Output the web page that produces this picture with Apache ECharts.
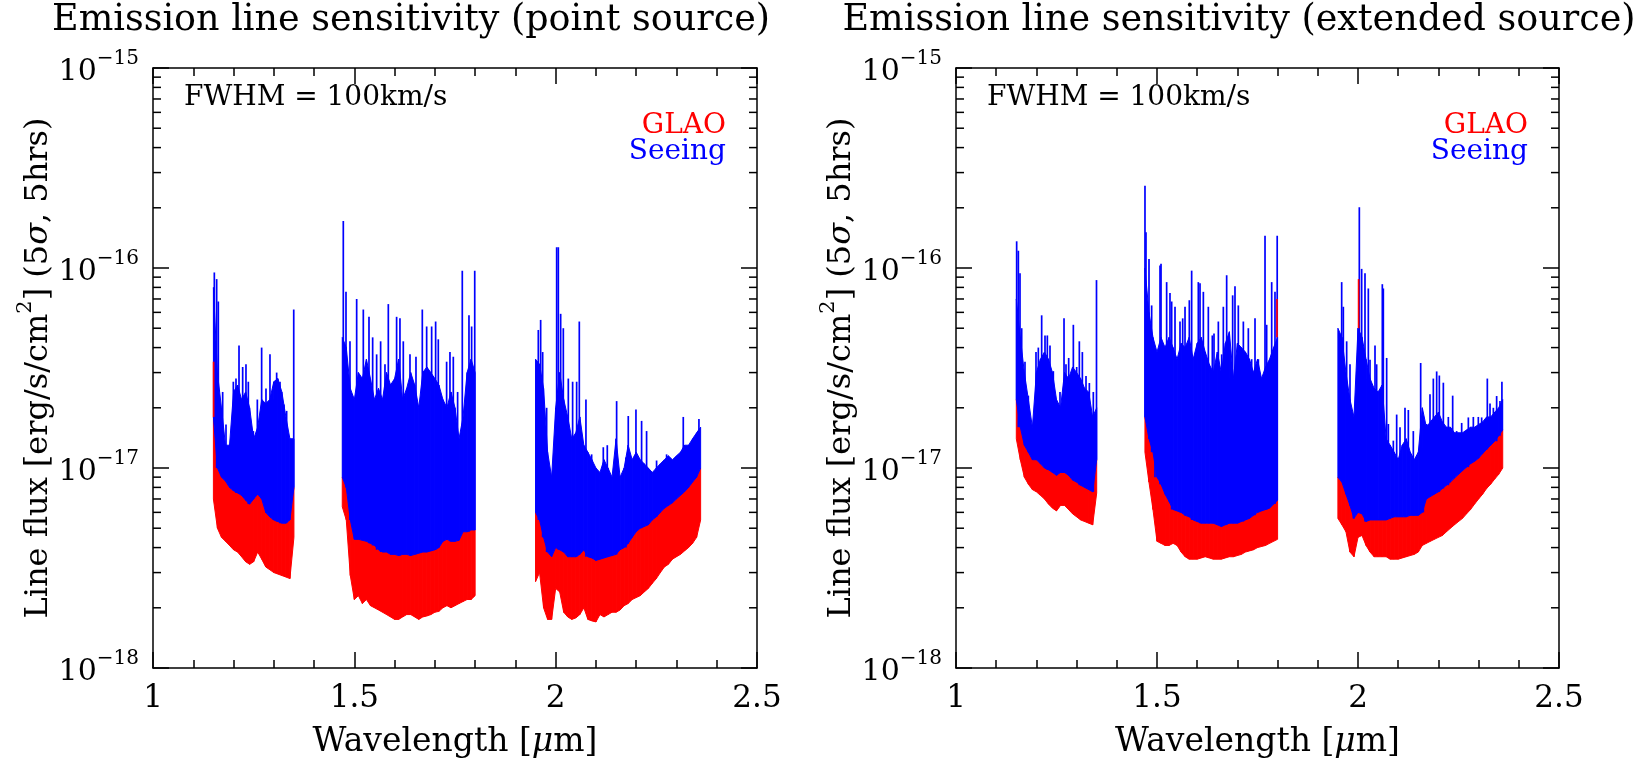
<!DOCTYPE html>
<html><head><meta charset="utf-8">
<script src="https://cdn.jsdelivr.net/npm/echarts@6/dist/echarts.min.js"></script>
<style>html,body{margin:0;padding:0;background:#fff}#c{width:1640px;height:764px}</style>
</head><body><div id="c"></div>
<script>
// ---------------- data (flux values in units of 1e-18 erg/s/cm^2) ----------------
const titles = ['Emission line sensitivity (point source)', 'Emission line sensitivity (extended source)'];
const annotation = 'FWHM = 100km/s';
const seriesNames = ['GLAO', 'Seeing'];
const xTickValues = [1, 1.5, 2, 2.5];
const xTickLabels = ['1', '1.5', '2', '2.5'];
const yTickValues = [1, 10, 100, 1000];
const yTickExponents = ['\u221218', '\u221217', '\u221216', '\u221215'];
const yMinorTickValues = [2,3,4,5,6,7,8,9,20,30,40,50,60,70,80,90,200,300,400,500,600,700,800,900];

const gridJ = [1.15,1.16,1.17,1.18,1.19,1.20,1.21,1.22,1.23,1.24,1.25,1.26,1.27,1.28,1.29,1.30,1.31,1.32,1.33,1.34,1.35];
const gridH = [1.47,1.48,1.49,1.50,1.51,1.52,1.53,1.54,1.55,1.56,1.57,1.58,1.59,1.60,1.61,1.62,1.63,1.64,1.65,1.66,1.67,1.68,1.69,1.70,1.71,1.72,1.73,1.74,1.75,1.76,1.77,1.78,1.79,1.80];
const gridK = [1.95,1.96,1.97,1.98,1.99,2.00,2.01,2.02,2.03,2.04,2.05,2.06,2.07,2.08,2.09,2.10,2.11,2.12,2.13,2.14,2.15,2.16,2.17,2.18,2.19,2.20,2.21,2.22,2.23,2.24,2.25,2.26,2.27,2.28,2.29,2.30,2.31,2.32,2.33,2.34,2.35,2.36];

// point source: Seeing dense top, Seeing floor, GLAO floor
const pointJTop     = [80,30,20,13,13,24,26,22,24,20,14,16,22,21,22,27,28,24,18,14,14];
const pointJBlueLow = [18,10,9.0,8.6,8.0,7.7,7.5,7.3,6.9,6.6,7.0,7.4,7.0,6.0,5.7,5.5,5.4,5.3,5.3,5.5,8.0];
const pointJRedLow  = [7,5.0,4.5,4.3,4.1,3.9,3.8,3.6,3.4,3.3,3.4,3.8,3.5,3.2,3.1,3.0,2.95,2.9,2.85,2.8,4.5];
const pointHTop     = [45,40,25,22,30,28,35,28,22,25,22,30,26,28,35,22,25,30,26,20,30,32,30,28,26,22,20,24,20,14,18,30,35,30];
const pointHBlueLow = [9,8,5.5,4.4,4.4,4.35,4.3,4.2,4.1,3.9,3.8,3.8,3.7,3.7,3.65,3.7,3.7,3.65,3.7,3.75,3.8,3.8,3.85,3.9,4.0,4.3,4.4,4.3,4.3,4.35,4.8,4.8,4.9,4.9];
const pointHRedLow  = [6.4,5.5,2.9,2.2,2.3,2.1,2.2,2.05,2.0,1.95,1.9,1.85,1.8,1.75,1.75,1.8,1.85,1.85,1.8,1.75,1.8,1.82,1.85,1.9,1.92,2.0,2.05,2.0,2.05,2.1,2.15,2.2,2.2,2.3];
const pointKTop     = [35,33,25,12,9,20,30,22,18,14,15,18,13,12,11,10,9.5,11,10,9,14,9,10,13,11,12,11,10.5,10,9.5,10,10.5,11,11.5,11,11.5,12,13,13,14,15,16];
const pointKBlueLow = [6.0,5.5,4.5,3.8,3.6,4.0,3.9,3.8,3.6,3.6,3.6,3.7,3.9,3.6,3.55,3.45,3.5,3.55,3.6,3.65,3.7,3.9,4.0,4.2,4.5,4.8,5.0,5.1,5.2,5.5,5.7,6.0,6.3,6.5,6.7,7.0,7.3,7.6,8.0,8.5,9.0,10.0];
const pointKRedLow  = [2.7,3.0,2.0,1.75,1.75,2.5,2.4,1.9,1.8,1.75,1.78,1.85,2.0,1.75,1.72,1.7,1.85,1.8,1.85,1.9,1.9,1.95,2.05,2.1,2.2,2.25,2.3,2.4,2.5,2.65,2.8,3.0,3.2,3.3,3.5,3.6,3.7,3.85,4.0,4.2,4.5,5.5];
const pointSpikes = [
 [1.1523,95],[1.1581,88],[1.1622,68],[1.1730,24],[1.1813,16.5],[1.1995,27],[1.2061,28],[1.2136,41],[1.2227,32],[1.2309,33],[1.2367,27],[1.2492,15.3],[1.2591,22],[1.2698,40],[1.2806,25],[1.2905,37],[1.2988,22],[1.3071,30],[1.3154,27],[1.3253,20.8],[1.3319,19.3],[1.3495,62],
 [1.4726,172],[1.4793,76],[1.4892,43],[1.5058,70],[1.5223,62],[1.5364,57],[1.5455,45],[1.5554,37],[1.5653,43],[1.5761,33],[1.5844,66],[1.5968,25],[1.6050,57],[1.6133,56],[1.6216,43],[1.6382,37],[1.6531,36],[1.6688,62],[1.6796,51],[1.6920,51],[1.7019,54],[1.7085,44],[1.7292,34],[1.7375,38],[1.7458,36],[1.7565,24],[1.7681,97],[1.7847,58],[1.7913,51],[1.7990,97],
 [1.9527,22],[1.9569,49],[1.9627,55],[1.9677,38],[1.9776,20],[2.0025,127],[2.0066,127],[2.0124,59],[2.0190,50],[2.0314,28],[2.0421,27],[2.0521,27],[2.0587,54],[2.0752,22],[2.0893,11.7],[2.1183,12.7],[2.1282,13],[2.1514,21.6],[2.1745,11.3],[2.1803,18.2],[2.1994,19.6],[2.2134,17.2],[2.2258,15.3],[2.2506,10.9],[2.2755,11.7],[2.3169,18],[2.3293,12.5],[2.3558,17.6]
];
// GLAO lines that show above the Seeing curve: [wavelength, from, to]
const pointRedSpikes = [[1.1505,18,34]];

// extended source
const extJTop     = [70,45,30,22,16,30,35,38,35,30,22,20,30,28,32,30,28,25,24,18,20];
const extJBlueLow = [22,16,13,12,11,11,10.5,10,9.8,9.5,9.2,9.5,9.5,9.2,8.7,8.5,8.2,8.0,7.8,7.6,11];
const extJRedLow  = [14,11,9.0,8.3,7.8,7.6,7.3,7.0,6.6,6.3,6.1,6.5,6.5,6.2,5.9,5.7,5.5,5.4,5.3,5.2,7.5];
const extHTop     = [100,60,45,38,45,40,45,40,35,42,40,45,35,42,45,38,33,30,38,30,42,48,28,42,40,38,35,30,35,28,32,35,40,45];
const extHBlueLow = [18,14,12,9,8.3,7.4,6.8,6.2,6.1,6.0,5.8,5.7,5.5,5.4,5.3,5.3,5.3,5.3,5.2,5.1,5.2,5.3,5.3,5.3,5.4,5.5,5.6,5.8,6.0,6.1,6.2,6.3,6.6,6.9];
const extHRedLow  = [12,8.5,6.2,4.3,4.2,4.1,4.1,4.2,4.1,3.8,3.6,3.5,3.5,3.5,3.55,3.6,3.55,3.5,3.5,3.5,3.55,3.6,3.6,3.65,3.7,3.8,3.85,3.9,4.0,4.05,4.1,4.2,4.3,4.4];
const extKTop     = [50,45,30,22,18,50,45,35,28,25,24,26,14,13,12,11,13,14,12,11,12,20,16,17,18,19,17,16,16,15,15,15,15.5,16,16,16.5,17,18,18,19,20,22];
const extKBlueLow = [9.0,8.5,7.4,6.5,5.6,6.0,5.9,5.4,5.5,5.5,5.5,5.5,5.5,5.6,5.7,5.7,5.7,5.7,5.8,5.8,5.8,6.0,7.0,7.2,7.4,7.6,7.9,8.2,8.5,8.9,9.3,9.7,10.1,10.5,10.8,11.2,11.8,12.4,13,13.6,14.5,15.5];
const extKRedLow  = [5.6,5.2,4.8,3.8,3.6,4.5,4.6,4.1,3.8,3.6,3.6,3.6,3.6,3.5,3.5,3.5,3.55,3.6,3.65,3.7,3.8,4.1,4.2,4.3,4.4,4.5,4.6,4.8,5.0,5.2,5.4,5.6,5.9,6.2,6.6,7.0,7.4,7.9,8.3,8.8,9.3,10];
const extSpikes = [
 [1.1509,136],[1.1551,122],[1.1592,94],[1.1634,50],[1.1716,34],[1.1799,23],[1.1990,38],[1.2048,40],[1.2131,58],[1.2214,46],[1.2272,46],[1.2338,41],[1.2421,30.5],[1.2504,21],[1.2587,24],[1.2687,56],[1.2736,33],[1.2803,35.5],[1.2919,52],[1.3002,32],[1.3068,43],[1.3143,38],[1.3234,28.8],[1.3317,26.6],[1.3416,24],[1.3495,87],
 [1.4701,258],[1.4726,151],[1.4801,111],[1.4867,65],[1.4950,38],[1.5075,103],[1.5100,105],[1.5240,85],[1.5323,75],[1.5365,68],[1.5448,64],[1.5572,54],[1.5639,56],[1.5697,64],[1.5804,69],[1.5862,97],[1.5945,33],[1.6028,85],[1.6070,84],[1.6153,76],[1.6277,64],[1.6376,46],[1.6418,47],[1.6526,54],[1.6609,37],[1.6650,64],[1.6733,92],[1.6816,28],[1.6882,73],[1.6940,81],[1.7023,65],[1.7148,54],[1.7272,50],[1.7355,35],[1.7438,56],[1.7521,35],[1.7604,24],[1.7687,145],[1.7728,52],[1.7853,85],[1.7935,76],[1.7990,145],
 [1.9594,85],[1.9635,64],[1.9718,43],[1.9801,33],[1.9884,17.9],[2.0033,201],[2.0091,99],[2.0174,94],[2.0257,79],[2.0299,34.8],[2.0423,41],[2.0464,33],[2.0605,83],[2.0630,79],[2.0713,35.5],[2.0755,16.6],[2.0879,13.7],[2.0962,18.5],[2.1045,16],[2.1169,20],[2.1252,19.5],[2.1376,15.3],[2.1459,10.9],[2.1559,33.5],[2.1625,12.5],[2.1708,16.6],[2.1791,23.4],[2.1874,28],[2.1957,30.4],[2.2023,29],[2.2123,26.7],[2.2247,18],[2.2355,23],[2.2454,15.3],[2.2579,16.8],[2.2662,15.3],[2.2745,17.9],[2.2869,18],[2.2993,18],[2.3076,17.9],[2.3217,28],[2.3284,21],[2.3367,20],[2.3449,22.9],[2.3532,21.6],[2.3580,27]
];
const extRedSpikes = [[1.7985,45,70],[2.0015,50,88]];

// ---------------- chart ----------------
const FONT = '"DejaVu Serif", serif';
const RED = '#ff0000', BLUE = '#0000ff';

const panels = [
  { grid: {left: 153, top: 68, width: 604, height: 604}, titleX: 411,
    bands: [
      {grid: gridJ, top: pointJTop, blueLow: pointJBlueLow, redLow: pointJRedLow},
      {grid: gridH, top: pointHTop, blueLow: pointHBlueLow, redLow: pointHRedLow},
      {grid: gridK, top: pointKTop, blueLow: pointKBlueLow, redLow: pointKRedLow}],
    spikes: pointSpikes, redSpikes: pointRedSpikes },
  { grid: {left: 956, top: 68, width: 603, height: 604}, titleX: 1239,
    bands: [
      {grid: gridJ, top: extJTop, blueLow: extJBlueLow, redLow: extJRedLow},
      {grid: gridH, top: extHTop, blueLow: extHBlueLow, redLow: extHRedLow},
      {grid: gridK, top: extKTop, blueLow: extKBlueLow, redLow: extKRedLow}],
    spikes: extSpikes, redSpikes: extRedSpikes }
];

function bandItems(bands, loKey, hiKey) {
  const items = [];
  bands.forEach(b => {
    for (let i = 0; i < b.grid.length - 1; i++) {
      items.push([b.grid[i], b[loKey][i], b[hiKey][i], b.grid[i + 1], b[loKey][i + 1], b[hiKey][i + 1]]);
    }
  });
  return items;
}
function nearestValue(bands, key, x) {
  let best = null, bd = Infinity;
  bands.forEach(b => b.grid.forEach((g, i) => {
    const d = Math.abs(g - x);
    if (d < bd) { bd = d; best = b[key][i]; }
  }));
  return best;
}
function spikeItems(bands, spikes, baseKey) {
  return spikes.map(s => [s[0], nearestValue(bands, baseKey, s[0]), s[1]]);
}
function polyRender(color) {
  return function (params, api) {
    const a = api.coord([api.value(0), api.value(1)]);
    const b = api.coord([api.value(0), api.value(2)]);
    const c = api.coord([api.value(3), api.value(5)]);
    const d = api.coord([api.value(3), api.value(4)]);
    return {type: 'polygon', shape: {points: [a, b, c, d]},
            style: {fill: color, stroke: color, lineWidth: 1}};
  };
}
function spikeRender(color, w) {
  return function (params, api) {
    const a = api.coord([api.value(0), api.value(1)]);
    const b = api.coord([api.value(0), api.value(2)]);
    return {type: 'line', shape: {x1: a[0], y1: a[1], x2: b[0], y2: b[1]},
            style: {stroke: color, lineWidth: w}};
  };
}
function minorTickRender(params, api) {
  const y = api.coord([1.5, api.value(0)])[1];
  const cs = params.coordSys;
  const st = {stroke: '#000', lineWidth: 1.5};
  return {type: 'group', children: [
    {type: 'line', shape: {x1: cs.x, y1: y, x2: cs.x + 8, y2: y}, style: st},
    {type: 'line', shape: {x1: cs.x + cs.width - 8, y1: y, x2: cs.x + cs.width, y2: y}, style: st}
  ]};
}

const axisLineStyle = {color: '#000', width: 1.5};
const xAxes = [], yAxes = [], series = [], grids = [], graphics = [];

panels.forEach((p, i) => {
  grids.push(p.grid);
  const xCommon = {
    type: 'value', gridIndex: i, min: 1, max: 2.5, interval: 0.5,
    axisLine: {show: true, onZero: false, lineStyle: axisLineStyle},
    axisTick: {show: true, inside: true, length: 16, lineStyle: axisLineStyle},
    minorTick: {show: true, splitNumber: 5, length: 8, lineStyle: axisLineStyle},
    splitLine: {show: false}, minorSplitLine: {show: false}
  };
  xAxes.push(Object.assign({}, xCommon, {
    position: 'bottom',
    axisLabel: {margin: 15, color: '#000', fontFamily: FONT, fontSize: 31,
      formatter: v => { const k = xTickValues.findIndex(t => Math.abs(t - v) < 1e-6); return k >= 0 ? xTickLabels[k] : ''; }},
    name: '{a|Wavelength [}{i|\u03bc}{a|m]}', nameLocation: 'middle', nameGap: 58,
    nameTextStyle: {rich: {a: {fontFamily: FONT, fontSize: 33, color: '#000'},
                           i: {fontFamily: FONT, fontSize: 33, fontStyle: 'italic', color: '#000'}}}
  }));
  xAxes.push(Object.assign({}, xCommon, {position: 'top', axisLabel: {show: false}}));

  const yCommon = {
    type: 'log', logBase: 10, gridIndex: i, min: 1, max: 1000,
    axisLine: {show: true, onZero: false, lineStyle: axisLineStyle},
    axisTick: {show: true, inside: true, length: 16, lineStyle: axisLineStyle},
    splitLine: {show: false}, minorTick: {show: false}
  };
  yAxes.push(Object.assign({}, yCommon, {
    position: 'left',
    axisLabel: {margin: 14, color: '#000',
      formatter: v => { const k = yTickValues.findIndex(t => Math.abs(Math.log10(t) - Math.log10(v)) < 1e-6); return k >= 0 ? '{b|10}{s|' + yTickExponents[k] + '}' : ''; },
      rich: {b: {fontFamily: FONT, fontSize: 30, color: '#000', padding: [9, 0, 0, 0], verticalAlign: 'bottom'},
             s: {fontFamily: FONT, fontSize: 20, color: '#000', verticalAlign: 'top'}}},
    name: '{a|Line flux [erg/s/cm}{s|2}{a|] (5}{i|\u03c3}{a|, 5hrs)}', nameLocation: 'middle', nameRotate: 90, nameGap: 98,
    nameTextStyle: {rich: {a: {fontFamily: FONT, fontSize: 32, color: '#000', padding: [8, 0, 0, 0], verticalAlign: 'bottom'},
                           i: {fontFamily: FONT, fontSize: 32, fontStyle: 'italic', color: '#000', padding: [8, 0, 0, 0], verticalAlign: 'bottom'},
                           s: {fontFamily: FONT, fontSize: 21, color: '#000', verticalAlign: 'top'}}}
  }));
  yAxes.push(Object.assign({}, yCommon, {position: 'right', axisLabel: {show: false}}));

  const xi = 2 * i, yi = 2 * i;
  series.push({type: 'custom', name: seriesNames[0], xAxisIndex: xi, yAxisIndex: yi, z: 2, silent: true,
    renderItem: polyRender(RED), data: bandItems(p.bands, 'redLow', 'blueLow')});
  series.push({type: 'custom', name: seriesNames[1], xAxisIndex: xi, yAxisIndex: yi, z: 3, silent: true,
    renderItem: polyRender(BLUE), data: bandItems(p.bands, 'blueLow', 'top')});
  series.push({type: 'custom', name: seriesNames[1], xAxisIndex: xi, yAxisIndex: yi, z: 3, silent: true,
    renderItem: spikeRender(BLUE, 1.7), data: spikeItems(p.bands, p.spikes, 'blueLow')});
  series.push({type: 'custom', name: seriesNames[0], xAxisIndex: xi, yAxisIndex: yi, z: 4, silent: true,
    renderItem: spikeRender(RED, 1.7), data: p.redSpikes});
  series.push({type: 'custom', name: 'minor', xAxisIndex: xi, yAxisIndex: yi, z: 5, silent: true,
    renderItem: minorTickRender, data: yMinorTickValues.map(v => [v])});

  const g = p.grid;
  graphics.push({type: 'text', x: p.titleX, y: 21,
    style: {text: titles[i], fontFamily: FONT, fontSize: 36.5, fill: '#000', textAlign: 'center', textVerticalAlign: 'middle', align: 'center', verticalAlign: 'middle'}});
  graphics.push({type: 'text', x: g.left + 31, y: 98,
    style: {text: annotation, fontFamily: FONT, fontSize: 28, fill: '#000', textAlign: 'left', textVerticalAlign: 'middle', align: 'left', verticalAlign: 'middle'}});
  graphics.push({type: 'text', x: g.left + g.width - 31, y: 126,
    style: {text: seriesNames[0], fontFamily: FONT, fontSize: 28, fill: RED, textAlign: 'right', textVerticalAlign: 'middle', align: 'right', verticalAlign: 'middle'}});
  graphics.push({type: 'text', x: g.left + g.width - 31, y: 152,
    style: {text: seriesNames[1], fontFamily: FONT, fontSize: 28, fill: BLUE, textAlign: 'right', textVerticalAlign: 'middle', align: 'right', verticalAlign: 'middle'}});
});

const chart = echarts.init(document.getElementById('c'), null, {renderer: 'canvas'});
chart.setOption({
  animation: false, backgroundColor: '#fff',
  grid: grids, xAxis: xAxes, yAxis: yAxes, series: series, graphic: graphics
});
</script></body></html>
